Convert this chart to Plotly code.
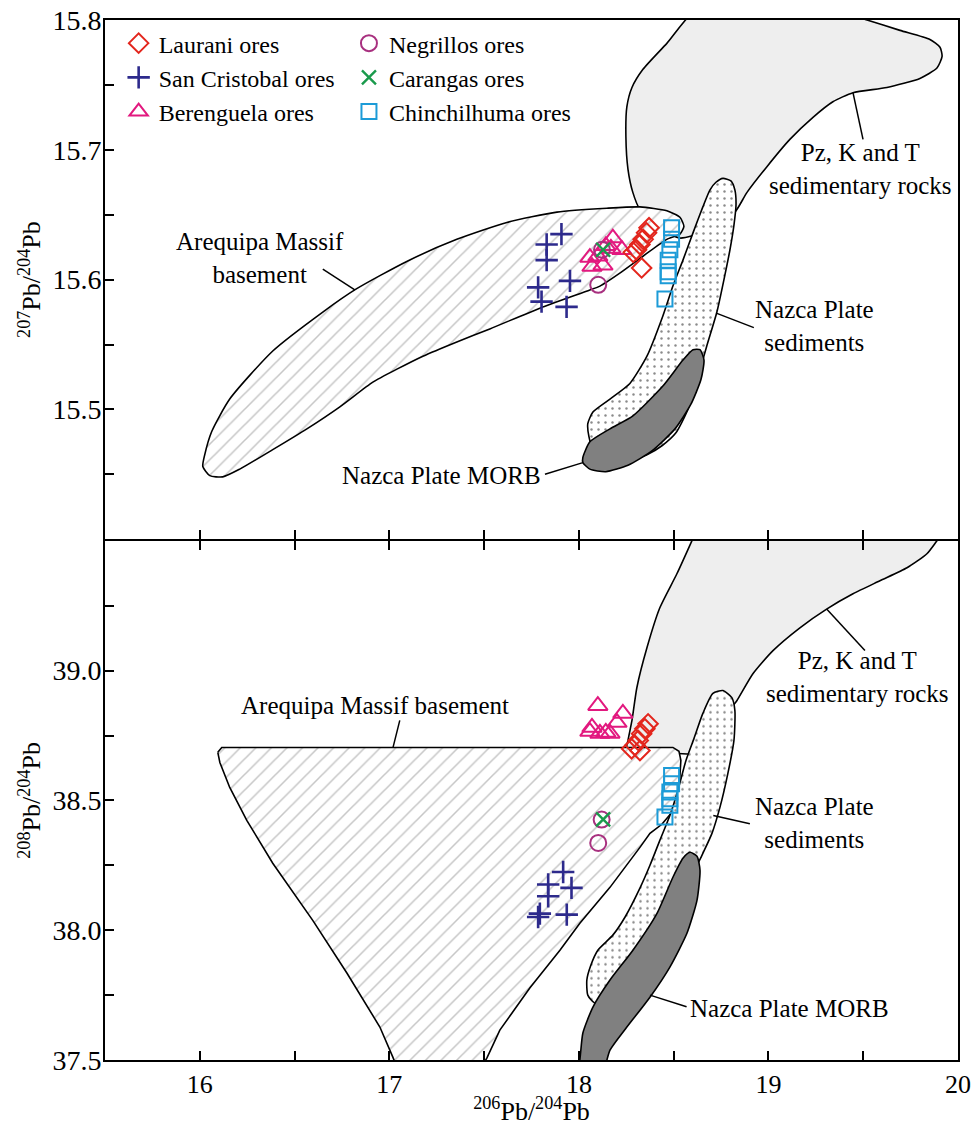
import plotly.graph_objects as go
from plotly.subplots import make_subplots

FONT = "Times New Roman"

# ---------------- axes ----------------
X_RANGE = [15.5, 20.0]
Y207_RANGE = [15.4, 15.8]
Y208_RANGE = [37.5, 39.5]
X_TICKS = [16.0, 16.5, 17.0, 17.5, 18.0, 18.5, 19.0, 19.5, 20.0]
X_TICK_LABELS = ["16", "", "17", "", "18", "", "19", "", "20"]
Y207_TICKS = [15.45, 15.5, 15.55, 15.6, 15.65, 15.7, 15.75, 15.8]
Y207_TICK_LABELS = ["", "15.5", "", "15.6", "", "15.7", "", "15.8"]
Y208_TICKS = [37.5, 37.75, 38.0, 38.25, 38.5, 38.75, 39.0, 39.25]
Y208_TICK_LABELS = ["37.5", "", "38.0", "", "38.5", "", "39.0", ""]

# ---------------- samples (206Pb/204Pb, 207Pb/204Pb, 208Pb/204Pb) ----------------
LAU_X7 = [18.370, 18.357, 18.339, 18.322, 18.304, 18.287, 18.331]
LAU_Y7 = [15.640, 15.636, 15.631, 15.627, 15.623, 15.621, 15.609]
LAU_X8 = [18.365, 18.348, 18.331, 18.313, 18.296, 18.278, 18.322]
LAU_Y8 = [38.795, 38.776, 38.757, 38.731, 38.712, 38.699, 38.692]

SC_X7 = [17.908, 17.830, 17.830, 17.953, 17.785, 17.803, 17.935]
SC_Y7 = [15.635, 15.627, 15.615, 15.599, 15.594, 15.583, 15.579]
SC_X8 = [17.917, 17.838, 17.838, 17.961, 17.794, 17.785, 17.936]
SC_Y8 = [38.224, 38.176, 38.131, 38.163, 38.064, 38.051, 38.060]

BER_X7 = [18.179, 18.227, 18.142, 18.058, 18.069, 18.127, 18.169, 18.100]
BER_Y7 = [15.632, 15.623, 15.626, 15.617, 15.610, 15.611, 15.624, 15.618]
BER_X8 = [18.100, 18.232, 18.069, 18.201, 18.142, 18.164, 18.058, 18.111]
BER_Y8 = [38.865, 38.835, 38.781, 38.800, 38.762, 38.758, 38.765, 38.758]

NEG_X7 = [18.102, 18.122]
NEG_Y7 = [15.596, 15.623]
NEG_X8 = [18.102, 18.120]
NEG_Y8 = [38.336, 38.426]

CAR_X7 = [18.128]
CAR_Y7 = [15.623]
CAR_X8 = [18.128]
CAR_Y8 = [38.427]

CHI_X7 = [18.489, 18.489, 18.480, 18.471, 18.471, 18.471, 18.454]
CHI_Y7 = [15.640, 15.631, 15.623, 15.615, 15.606, 15.603, 15.585]
CHI_X8 = [18.489, 18.489, 18.480, 18.480, 18.480, 18.454]
CHI_Y8 = [38.596, 38.564, 38.532, 38.506, 38.481, 38.436]

# ---------------- reference fields (outlines, data units) ----------------
AMB_TOP_X = [16.026, 16.063, 16.158, 16.385, 16.649, 16.828, 17.092, 17.356, 17.620, 17.884,
             18.148, 18.322, 18.464, 18.533, 18.554, 18.533, 18.464, 18.338, 18.216,
             18.111, 18.058, 17.794, 17.530, 17.356, 17.177, 17.040, 16.913, 16.739, 16.565,
             16.385, 16.211, 16.121, 16.053, 16.016]
AMB_TOP_Y = [15.465, 15.483, 15.508, 15.545, 15.575, 15.593, 15.614, 15.631, 15.644, 15.652,
             15.655, 15.656, 15.653, 15.648, 15.641, 15.635, 15.631, 15.618, 15.605,
             15.595, 15.592, 15.578, 15.562, 15.552, 15.541, 15.531, 15.521, 15.502, 15.485,
             15.469, 15.454, 15.448, 15.449, 15.456]

PZ_TOP_X = [18.649, 18.464, 18.338, 18.280, 18.253, 18.248, 18.259, 18.285, 18.322, 18.427,
            18.533, 18.665, 18.823, 18.886, 18.992, 19.113, 19.235, 19.340, 19.446, 19.625,
            19.799, 19.889, 19.916, 19.905, 19.852, 19.694, 19.520, 19.256]
PZ_TOP_Y = [15.812, 15.782, 15.762, 15.748, 15.733, 15.710, 15.685, 15.667, 15.654, 15.640,
            15.632, 15.637, 15.652, 15.667, 15.687, 15.708, 15.725, 15.737, 15.744, 15.748,
            15.755, 15.763, 15.772, 15.779, 15.785, 15.792, 15.800, 15.812]

SED_TOP_X = [18.760, 18.802, 18.823, 18.829, 18.818, 18.797, 18.771, 18.728, 18.675, 18.628,
             18.575, 18.512, 18.438, 18.359, 18.269, 18.174, 18.084, 18.053, 18.047, 18.074,
             18.164, 18.269, 18.359, 18.443, 18.496, 18.549, 18.602, 18.654, 18.691, 18.723]
SED_TOP_Y = [15.678, 15.676, 15.669, 15.658, 15.642, 15.623, 15.604, 15.575, 15.549, 15.525,
             15.500, 15.482, 15.472, 15.465, 15.460, 15.457, 15.465, 15.479, 15.489, 15.498,
             15.508, 15.520, 15.541, 15.572, 15.595, 15.615, 15.636, 15.656, 15.669, 15.675]

MORB_TOP_X = [18.021, 18.058, 18.164, 18.285, 18.443, 18.549, 18.602, 18.639, 18.660, 18.644,
              18.591, 18.507, 18.385, 18.259, 18.142, 18.058, 18.021]
MORB_TOP_Y = [15.463, 15.475, 15.485, 15.495, 15.518, 15.538, 15.546, 15.546, 15.538, 15.523,
              15.504, 15.485, 15.468, 15.457, 15.452, 15.454, 15.459]

AMB_BOT_X = [16.095, 16.116, 17.055, 18.496, 18.528, 18.538, 18.528, 18.491, 18.438, 18.375,
             18.322, 18.164, 18.005, 17.900, 17.741, 17.583, 17.515, 17.446, 17.066, 17.018,
             16.950, 16.776, 16.596, 16.385, 16.248, 16.158, 16.106]
AMB_BOT_Y = [38.685, 38.704, 38.704, 38.704, 38.689, 38.654, 38.538, 38.454, 38.408, 38.373,
             38.319, 38.165, 38.027, 37.923, 37.777, 37.615, 37.508, 37.423, 37.423, 37.512,
             37.627, 37.835, 38.038, 38.258, 38.423, 38.550, 38.646]

PZ_BOT_X = [18.654, 18.596, 18.517, 18.427, 18.359, 18.306, 18.280, 18.259, 18.253, 18.427,
            18.639, 18.813, 18.834, 18.918, 19.024, 19.166, 19.309, 19.446, 19.588, 19.731,
            19.836, 19.889, 19.989]
PZ_BOT_Y = [39.596, 39.500, 39.373, 39.242, 39.088, 38.935, 38.808, 38.731, 38.700, 38.685,
            38.685, 38.865, 38.885, 38.988, 39.077, 39.165, 39.238, 39.296, 39.346, 39.396,
            39.450, 39.500, 39.596]

SED_BOT_X = [18.760, 18.807, 18.823, 18.818, 18.786, 18.744, 18.702, 18.654, 18.586, 18.480,
             18.348, 18.216, 18.084, 18.047, 18.042, 18.063, 18.100, 18.179, 18.243, 18.322,
             18.375, 18.427, 18.480, 18.522, 18.565, 18.607, 18.654, 18.707]
SED_BOT_Y = [38.923, 38.896, 38.846, 38.731, 38.604, 38.473, 38.373, 38.296, 38.192, 38.000,
             37.808, 37.712, 37.719, 37.750, 37.808, 37.865, 37.923, 37.981, 38.050, 38.162,
             38.250, 38.346, 38.442, 38.538, 38.654, 38.738, 38.835, 38.912]

MORB_BOT_X = [18.586, 18.623, 18.639, 18.623, 18.570, 18.480, 18.375, 18.253, 18.164, 18.111,
              17.984, 18.005, 18.021, 18.074, 18.164, 18.285, 18.412, 18.496, 18.549]
MORB_BOT_Y = [38.300, 38.285, 38.231, 38.115, 37.988, 37.858, 37.742, 37.627, 37.538, 37.423,
              37.423, 37.500, 37.604, 37.704, 37.808, 37.923, 38.065, 38.204, 38.277]

# ---------------- field labels ----------------
TOP_LABELS = ["Arequipa Massif<br>basement", "Nazca Plate MORB",
              "Nazca Plate<br>sediments", "Pz, K and T<br>sedimentary rocks"]
TOP_LABEL_X = [16.316, 17.277, 19.245, 19.483]
TOP_LABEL_Y = [15.617, 15.449, 15.564, 15.685]
TOP_LEADER_X0 = [16.649, 17.821, 18.728, 19.446]
TOP_LEADER_Y0 = [15.608, 15.450, 15.574, 15.744]
TOP_LEADER_X1 = [16.818, 18.021, 18.923, 19.499]
TOP_LEADER_Y1 = [15.592, 15.459, 15.563, 15.708]

BOT_LABELS = ["Arequipa Massif basement", "Pz, K and T<br>sedimentary rocks",
              "Nazca Plate<br>sediments", "Nazca Plate MORB"]
BOT_LABEL_X = [16.923, 19.472, 19.245, 19.113]
BOT_LABEL_Y = [38.865, 38.975, 38.413, 37.700]
BOT_LEADER_X0 = [17.020, 19.307, 18.709, 18.375]
BOT_LEADER_Y0 = [38.705, 39.237, 38.442, 37.750]
BOT_LEADER_X1 = [17.055, 19.509, 18.902, 18.568]
BOT_LEADER_Y1 = [38.808, 39.077, 38.410, 37.705]

# ---------------- styles ----------------
COLORS = {"Laurani ores": "#e3261d", "San Cristobal ores": "#2d2a8c",
          "Berenguela ores": "#e2197f", "Negrillos ores": "#a8307f",
          "Carangas ores": "#1a9a4c", "Chinchilhuma ores": "#1c9bd7"}
SYMBOLS = {"Laurani ores": "diamond-open", "San Cristobal ores": "cross-thin-open",
           "Berenguela ores": "triangle-up-open", "Negrillos ores": "circle-open",
           "Carangas ores": "x-thin-open", "Chinchilhuma ores": "square-open"}
SIZES = {"Laurani ores": 15, "San Cristobal ores": 16, "Berenguela ores": 17,
         "Negrillos ores": 16, "Carangas ores": 14, "Chinchilhuma ores": 15}
LWS = {"Laurani ores": 2, "San Cristobal ores": 2.6, "Berenguela ores": 2,
       "Negrillos ores": 2, "Carangas ores": 2.4, "Chinchilhuma ores": 2}
LEGEND_OF = {"Laurani ores": "legend", "San Cristobal ores": "legend",
             "Berenguela ores": "legend", "Negrillos ores": "legend2",
             "Carangas ores": "legend2", "Chinchilhuma ores": "legend2"}

fig = make_subplots(rows=2, cols=1, vertical_spacing=0)


def add_region(xs, ys, row, smooth=True, **fill):
    fig.add_trace(go.Scatter(
        x=xs + xs[:1], y=ys + ys[:1], mode="lines", fill="toself",
        line=dict(color="black", width=1.6,
                  shape="spline" if smooth else "linear", smoothing=0.6),
        hoverinfo="skip", showlegend=False, **fill), row=row, col=1)


HATCH = dict(fillcolor="white",
             fillpattern=dict(shape="/", fgcolor="#8e8e8e", bgcolor="white",
                              size=11, solidity=0.14))
STIPPLE = dict(fillcolor="white",
               fillpattern=dict(shape=".", fgcolor="#151515", bgcolor="white",
                                size=7, solidity=0.1))
PZ = dict(fillcolor="#eeeeee")
MORB = dict(fillcolor="#808080")

add_region(PZ_TOP_X, PZ_TOP_Y, 1, **PZ)
add_region(AMB_TOP_X, AMB_TOP_Y, 1, **HATCH)
add_region(SED_TOP_X, SED_TOP_Y, 1, **STIPPLE)
add_region(MORB_TOP_X, MORB_TOP_Y, 1, **MORB)
add_region(PZ_BOT_X, PZ_BOT_Y, 2, **PZ)
add_region(AMB_BOT_X, AMB_BOT_Y, 2, smooth=False, **HATCH)
add_region(SED_BOT_X, SED_BOT_Y, 2, **STIPPLE)
add_region(MORB_BOT_X, MORB_BOT_Y, 2, **MORB)

DATA7 = {"Laurani ores": (LAU_X7, LAU_Y7), "San Cristobal ores": (SC_X7, SC_Y7),
         "Berenguela ores": (BER_X7, BER_Y7), "Negrillos ores": (NEG_X7, NEG_Y7),
         "Carangas ores": (CAR_X7, CAR_Y7), "Chinchilhuma ores": (CHI_X7, CHI_Y7)}
DATA8 = {"Laurani ores": (LAU_X8, LAU_Y8), "San Cristobal ores": (SC_X8, SC_Y8),
         "Berenguela ores": (BER_X8, BER_Y8), "Negrillos ores": (NEG_X8, NEG_Y8),
         "Carangas ores": (CAR_X8, CAR_Y8), "Chinchilhuma ores": (CHI_X8, CHI_Y8)}

DRAW_ORDER = ["San Cristobal ores", "Berenguela ores", "Negrillos ores",
              "Carangas ores", "Laurani ores", "Chinchilhuma ores"]
LEGEND_ORDER = {"Laurani ores": 1, "San Cristobal ores": 2, "Berenguela ores": 3,
                "Negrillos ores": 4, "Carangas ores": 5, "Chinchilhuma ores": 6}

for name in DRAW_ORDER:
    c = COLORS[name]
    mk = dict(symbol=SYMBOLS[name], size=SIZES[name], color=c,
              line=dict(color=c, width=LWS[name]))
    x7, y7 = DATA7[name]
    x8, y8 = DATA8[name]
    fig.add_trace(go.Scatter(x=x7, y=y7, mode="markers", name=name, marker=mk,
                             legend=LEGEND_OF[name], legendrank=LEGEND_ORDER[name],
                             showlegend=True), row=1, col=1)
    fig.add_trace(go.Scatter(x=x8, y=y8, mode="markers", name=name, marker=mk,
                             showlegend=False), row=2, col=1)

LABEL_FONT = dict(family=FONT, size=25, color="black")
for t, x, y in zip(TOP_LABELS, TOP_LABEL_X, TOP_LABEL_Y):
    fig.add_annotation(x=x, y=y, xref="x", yref="y", text=t, showarrow=False,
                       font=LABEL_FONT)
for x0, y0, x1, y1 in zip(TOP_LEADER_X0, TOP_LEADER_Y0, TOP_LEADER_X1, TOP_LEADER_Y1):
    fig.add_shape(type="line", x0=x0, y0=y0, x1=x1, y1=y1, xref="x", yref="y",
                  line=dict(color="black", width=1.5))
for t, x, y in zip(BOT_LABELS, BOT_LABEL_X, BOT_LABEL_Y):
    fig.add_annotation(x=x, y=y, xref="x2", yref="y2", text=t, showarrow=False,
                       font=LABEL_FONT)
for x0, y0, x1, y1 in zip(BOT_LEADER_X0, BOT_LEADER_Y0, BOT_LEADER_X1, BOT_LEADER_Y1):
    fig.add_shape(type="line", x0=x0, y0=y0, x1=x1, y1=y1, xref="x2", yref="y2",
                  line=dict(color="black", width=1.5))

AX = dict(showline=True, linecolor="black", linewidth=1.6, ticks="inside",
          ticklen=9, tickwidth=1.5, tickcolor="black", showgrid=False,
          zeroline=False, automargin=False, ticklabeloverflow="allow")
XTICK_FONT = dict(family=FONT, size=26, color="black")
YTICK_FONT = dict(family=FONT, size=28, color="black")
TITLE_FONT = dict(family=FONT, size=26, color="black")
GAP = 0.8 / 1040

fig.update_xaxes(range=X_RANGE, tickmode="array", tickvals=X_TICKS,
                 ticktext=X_TICK_LABELS, showticklabels=False, mirror=True,
                 tickfont=XTICK_FONT, row=1, col=1, **AX)
fig.update_xaxes(range=X_RANGE, tickmode="array", tickvals=X_TICKS,
                 ticktext=X_TICK_LABELS, mirror="ticks", row=2, col=1,
                 tickfont=XTICK_FONT,
                 title=dict(text="<sup>206</sup>Pb/<sup>204</sup>Pb", standoff=0,
                            font=TITLE_FONT),
                 **AX)
fig.update_yaxes(range=Y207_RANGE, tickmode="array", tickvals=Y207_TICKS,
                 ticktext=Y207_TICK_LABELS, mirror=True, domain=[0.5 + GAP, 1.0],
                 ticklabelstandoff=-4, tickfont=YTICK_FONT, row=1, col=1,
                 title=dict(text="<sup>207</sup>Pb/<sup>204</sup>Pb", standoff=4,
                            font=TITLE_FONT),
                 **AX)
fig.update_yaxes(range=Y208_RANGE, tickmode="array", tickvals=Y208_TICKS,
                 ticktext=Y208_TICK_LABELS, mirror=True, domain=[0.0, 0.5 - GAP],
                 ticklabelstandoff=-4, tickfont=YTICK_FONT, row=2, col=1,
                 title=dict(text="<sup>208</sup>Pb/<sup>204</sup>Pb", standoff=4,
                            font=TITLE_FONT),
                 **AX)

LEG = dict(font=dict(family=FONT, size=24, color="black"), bgcolor="rgba(0,0,0,0)",
           xanchor="left", yanchor="top", tracegroupgap=0, itemsizing="trace",
           orientation="v")
fig.update_layout(
    width=974, height=1126,
    margin=dict(l=105, r=16, t=20, b=66),
    paper_bgcolor="white", plot_bgcolor="white",
    font=dict(family=FONT, color="black"),
    legend=dict(x=0.016, y=0.999, **LEG),
    legend2=dict(x=0.286, y=0.999, **LEG),
)

# place the figure at the page origin (no default body margin, no scrollbars)
fig.write_html("out.html", config={"displayModeBar": False},
               post_script="document.body.style.margin='0';"
                           "document.body.style.overflow='hidden';")
